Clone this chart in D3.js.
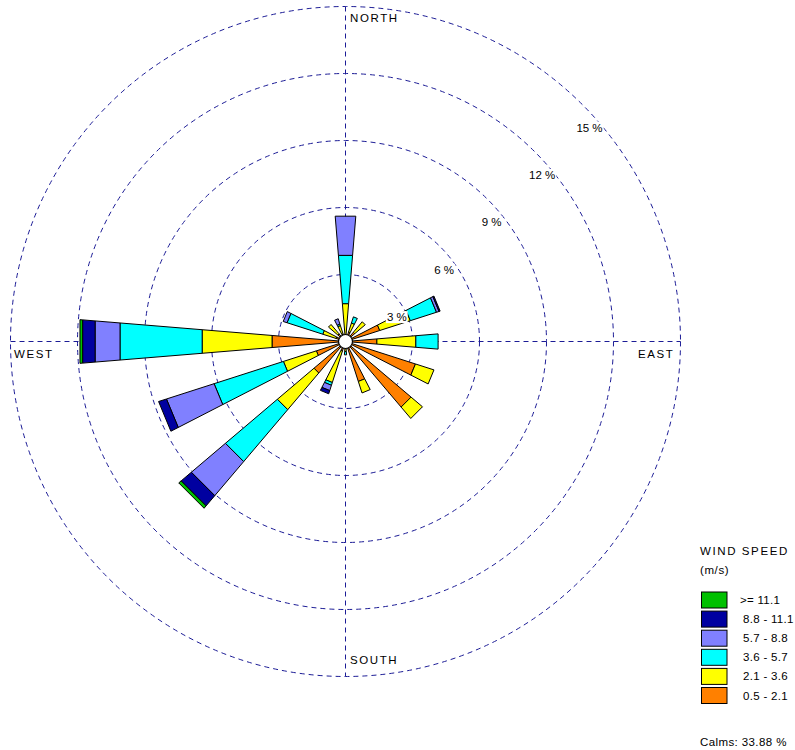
<!DOCTYPE html>
<html>
<head>
<meta charset="utf-8">
<script src="https://cdn.jsdelivr.net/npm/d3@7/dist/d3.min.js"></script>
<style>
  html, body { margin: 0; padding: 0; background: #fff; }
  svg { display: block; }
  text { font-family: "Liberation Sans", Arial, sans-serif; fill: #000; }
</style>
</head>
<body>
<svg id="chart" width="795" height="750"></svg>
<script>
// 16 compass sectors, clockwise from north
const directions = ["N","NNE","NE","ENE","E","ESE","SE","SSE","S","SSW","SW","WSW","W","WNW","NW","NNW"];

// Frequency (%) of each speed class per sector
const class0521  = [0.30, 0.45, 0.54, 1.61, 1.41, 3.29, 3.85, 1.88, 0.25, 0.45, 1.85, 1.37, 3.30, 0.45, 0.45, 0.35];
const class2136  = [1.40, 0.42, 0.62, 1.44, 1.75, 0.87, 0.67, 0.54, 0.20, 1.48, 2.15, 1.55, 3.14, 0.62, 0.55, 0.40];
const class3657  = [2.17, 0.29, 0.00, 1.23, 1.00, 0.00, 0.00, 0.00, 0.15, 0.13, 3.05, 3.26, 3.69, 1.68, 0.00, 0.07];
const class5788  = [1.76, 0.00, 0.00, 0.12, 0.00, 0.00, 0.00, 0.00, 0.00, 0.25, 2.00, 2.24, 1.12, 0.18, 0.00, 0.25];
const class88111 = [0.00, 0.00, 0.00, 0.05, 0.00, 0.00, 0.00, 0.00, 0.00, 0.15, 0.60, 0.37, 0.56, 0.00, 0.00, 0.00];
const class111   = [0.00, 0.00, 0.00, 0.00, 0.00, 0.00, 0.00, 0.00, 0.00, 0.00, 0.14, 0.00, 0.12, 0.00, 0.00, 0.00];

const classLabels = ["0.5 - 2.1", "2.1 - 3.6", "3.6 - 5.7", "5.7 - 8.8", "8.8 - 11.1", ">= 11.1"];
const classColors = ["#ff8000", "#ffff00", "#00ffff", "#8080ff", "#0000a0", "#00c000"];
const ringTicks = [3, 6, 9, 12, 15];
const calmsText = "Calms: 33.88 %";

const seriesByClass = [class0521, class2136, class3657, class5788, class88111, class111];

const svg = d3.select("#chart");
const cx = 345.5, cy = 341.5;
const r = d3.scaleLinear().domain([0, 15]).range([0, 335]);
const angle = d3.scaleBand().domain(directions).range([0, 2 * Math.PI]).align(0).paddingInner(0).paddingOuter(0);
const halfWidth = 4.7 * Math.PI / 180;   // half angular width of each petal
const gridColor = "#1c1c96";

const g = svg.append("g").attr("transform", `translate(${cx},${cy})`);

// grid rings
g.selectAll("circle.ring").data(ringTicks).join("circle")
  .attr("class", "ring")
  .attr("r", d => r(d))
  .attr("fill", "none")
  .attr("stroke", gridColor)
  .attr("stroke-width", 1)
  .attr("stroke-dasharray", "5,4");

// cross axes
const rMax = r(15);
g.append("line").attr("x1", 0).attr("x2", 0).attr("y1", -rMax).attr("y2", rMax)
  .attr("stroke", gridColor).attr("stroke-dasharray", "5,4");
g.append("line").attr("x1", -rMax).attr("x2", rMax).attr("y1", 0).attr("y2", 0)
  .attr("stroke", gridColor).attr("stroke-dasharray", "5,4");

// stacked petals
const pt = (rad, a) => [rad * Math.sin(a), -rad * Math.cos(a)];
const segments = [];
directions.forEach((dir, i) => {
  let acc = 0;
  seriesByClass.forEach((series, k) => {
    const v = series[i];
    if (v > 0) {
      segments.push({ dir, k, r0: acc, r1: acc + v });
      acc += v;
    }
  });
});

g.selectAll("path.seg").data(segments).join("path")
  .attr("class", "seg")
  .attr("d", d => {
    const a = angle(d.dir);
    const p = [
      pt(r(d.r0), a - halfWidth), pt(r(d.r1), a - halfWidth),
      pt(r(d.r1), a + halfWidth), pt(r(d.r0), a + halfWidth)
    ];
    return d3.line()(p) + "Z";
  })
  .attr("fill", d => classColors[d.k])
  .attr("stroke", "#000")
  .attr("stroke-width", 1)
  .attr("stroke-linejoin", "miter");

// calm circle
g.append("circle").attr("r", 7).attr("fill", "#fff").attr("stroke", "#000").attr("stroke-width", 1.2);

// ring labels with white backing
const c45 = Math.SQRT1_2;
const ringLabels = svg.append("g");
ringTicks.forEach(t => {
  const x = cx + r(t) * c45 - 6;
  const y = cy - r(t) * c45 + 27;
  const txt = ringLabels.append("text")
    .attr("x", x).attr("y", y)
    .attr("font-size", 11.5)
    .text(`${t} %`);
  const bb = txt.node().getBBox();
  ringLabels.insert("rect", "text")
    .attr("x", bb.x - 1).attr("y", bb.y).attr("width", bb.width + 2).attr("height", bb.height)
    .attr("fill", "#fff");
});

// compass labels
const compass = svg.append("g").attr("font-size", 11.5).attr("letter-spacing", 1.6);
compass.append("text").attr("x", 350).attr("y", 22).text("NORTH");
compass.append("text").attr("x", 350).attr("y", 664).text("SOUTH");
compass.append("text").attr("x", 14).attr("y", 358).text("WEST");
compass.append("text").attr("x", 638).attr("y", 358).text("EAST");

// legend
const legend = svg.append("g");
legend.append("text").attr("x", 700).attr("y", 555).attr("font-size", 11.5).attr("letter-spacing", 1.6).text("WIND SPEED");
legend.append("text").attr("x", 700).attr("y", 574).attr("font-size", 11.5).attr("letter-spacing", 0.6).text("(m/s)");

const order = d3.range(classLabels.length).reverse();
const ly = d3.scalePoint().domain(order).range([592, 687.5]);
legend.selectAll("rect.key").data(order).join("rect")
  .attr("class", "key")
  .attr("x", 701.5).attr("y", d => ly(d))
  .attr("width", 25.5).attr("height", 16)
  .attr("fill", d => classColors[d]).attr("stroke", "#000");
legend.selectAll("text.key").data(order).join("text")
  .attr("class", "key")
  .attr("x", d => d === 5 ? 740 : 743)
  .attr("y", d => ly(d) + 12)
  .attr("font-size", 11.5)
  .attr("letter-spacing", 0.3)
  .text(d => classLabels[d]);

legend.append("text").attr("x", 700).attr("y", 746).attr("font-size", 11.5).attr("letter-spacing", 0.4).text(calmsText);
</script>
</body>
</html>
